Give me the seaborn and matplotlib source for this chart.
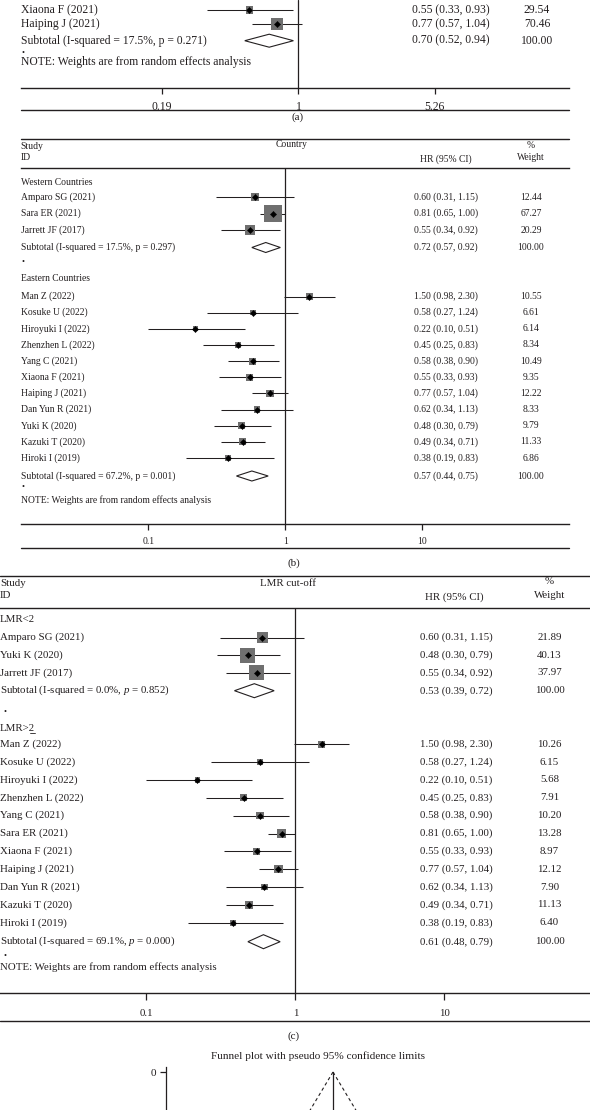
import numpy as np
import pandas as pd
import seaborn as sns
import matplotlib.pyplot as plt
import matplotlib.transforms as mtransforms
from matplotlib.lines import Line2D
from matplotlib.ticker import NullLocator

sns.set_style('white')
plt.rcParams['font.family'] = ['Liberation Serif', 'DejaVu Serif']
plt.rcParams['mathtext.fontset'] = 'custom'
plt.rcParams['mathtext.rm'] = 'Liberation Serif'
plt.rcParams['mathtext.it'] = 'Liberation Serif:italic'

# ---- data ----
# (a) bottom of a subgroup panel
a_names = ['Xiaona F (2021)', 'Haiping J (2021)']
a_hr = [0.55, 0.77]
a_lo = [0.33, 0.57]
a_hi = [0.93, 1.04]
a_w = [29.54, 70.46]
a_sub = [0.70, 0.52, 0.94]
a_sub_label = 'Subtotal (I-squared = 17.5%, p = 0.271)'
a_ticks = [0.19, 1, 5.26]

# (b) country
b_west_names = ['Amparo SG (2021)', 'Sara ER (2021)', 'Jarrett JF (2017)']
b_west_hr = [0.60, 0.81, 0.55]
b_west_lo = [0.31, 0.65, 0.34]
b_west_hi = [1.15, 1.00, 0.92]
b_west_w = [12.44, 67.27, 20.29]
b_west_sub = [0.72, 0.57, 0.92]
b_west_label = 'Subtotal (I-squared = 17.5%, p = 0.297)'

b_east_names = ['Man Z (2022)', 'Kosuke U (2022)', 'Hiroyuki I (2022)', 'Zhenzhen L (2022)',
                'Yang C (2021)', 'Xiaona F (2021)', 'Haiping J (2021)', 'Dan Yun R (2021)',
                'Yuki K (2020)', 'Kazuki T (2020)', 'Hiroki I (2019)']
b_east_hr = [1.50, 0.58, 0.22, 0.45, 0.58, 0.55, 0.77, 0.62, 0.48, 0.49, 0.38]
b_east_lo = [0.98, 0.27, 0.10, 0.25, 0.38, 0.33, 0.57, 0.34, 0.30, 0.34, 0.19]
b_east_hi = [2.30, 1.24, 0.51, 0.83, 0.90, 0.93, 1.04, 1.13, 0.79, 0.71, 0.83]
b_east_w = [10.55, 6.61, 6.14, 8.34, 10.49, 9.35, 12.22, 8.33, 9.79, 11.33, 6.86]
b_east_sub = [0.57, 0.44, 0.75]
b_east_label = 'Subtotal (I-squared = 67.2%, p = 0.001)'
b_ticks = [0.1, 1, 10]

# (c) LMR cut-off
c_low_names = ['Amparo SG (2021)', 'Yuki K (2020)', 'Jarrett JF (2017)']
c_low_hr = [0.60, 0.48, 0.55]
c_low_lo = [0.31, 0.30, 0.34]
c_low_hi = [1.15, 0.79, 0.92]
c_low_w = [21.89, 40.13, 37.97]
c_low_sub = [0.53, 0.39, 0.72]
c_low_label = 'Subtotal (I-squared = 0.0%, $p$ = 0.852)'

c_high_names = ['Man Z (2022)', 'Kosuke U (2022)', 'Hiroyuki I (2022)', 'Zhenzhen L (2022)',
                'Yang C (2021)', 'Sara ER (2021)', 'Xiaona F (2021)', 'Haiping J (2021)',
                'Dan Yun R (2021)', 'Kazuki T (2020)', 'Hiroki I (2019)']
c_high_hr = [1.50, 0.58, 0.22, 0.45, 0.58, 0.81, 0.55, 0.77, 0.62, 0.49, 0.38]
c_high_lo = [0.98, 0.27, 0.10, 0.25, 0.38, 0.65, 0.33, 0.57, 0.34, 0.34, 0.19]
c_high_hi = [2.30, 1.24, 0.51, 0.83, 0.90, 1.00, 0.93, 1.04, 1.13, 0.71, 0.83]
c_high_w = [10.26, 6.15, 5.68, 7.91, 10.20, 13.28, 8.97, 12.12, 7.90, 11.13, 6.40]
c_high_sub = [0.61, 0.48, 0.79]
c_high_label = 'Subtotal (I-squared = 69.1%, $p$ = 0.000)'
c_ticks = [0.1, 1, 10]

# funnel plot (only its top is visible)
funnel_pooled_hr = 0.59

# ---- figure helpers (layout in pixels) ----
W, H = 590, 1110
INK = '#231f20'
BOX = '#6f6f6f'
fig = plt.figure(figsize=(W / 100, H / 100), dpi=100)


def fy(y):
    return 1 - y / H


def rule(x0, x1, y, lw=1.0):
    fig.add_artist(Line2D([x0 / W, x1 / W], [fy(y), fy(y)], transform=fig.transFigure,
                          color=INK, lw=lw))


def ftext(x, y, s, size, ha='left'):
    fig.text(x / W, fy(y), s, fontsize=size, ha=ha, va='center', color=INK)


def forest_axes(x0, x1, ytop, ybot, one_px, dec_px, ticks, tsize, tlen, tpad):
    ax = fig.add_axes([x0 / W, fy(ybot), (x1 - x0) / W, (ybot - ytop) / H])
    ax.set_facecolor('none')
    ax.set_xscale('log')
    for s in ['left', 'right']:
        ax.spines[s].set_visible(False)
    for s in ['top', 'bottom']:
        ax.spines[s].set_color(INK)
        ax.spines[s].set_linewidth(1.0)
    ax.axvline(1, color=INK, lw=0.9, zorder=1)
    ax.set_xticks(ticks)
    ax.set_xticklabels([f'{t:g}' for t in ticks])
    ax.xaxis.set_minor_locator(NullLocator())
    ax.set_yticks([])
    ax.tick_params(axis='x', bottom=True, direction='out', length=tlen, width=0.9,
                   color=INK, labelcolor=INK, labelsize=tsize, pad=tpad)
    ax.set_xlim(10 ** ((x0 - one_px) / dec_px), 10 ** ((x1 - one_px) / dec_px))
    ax.set_ylim(ybot, ytop)
    return ax


def draw_studies(ax, names, hr, lo, hi, w, rows, box_max, size, xn, xh, xw):
    df = pd.DataFrame({'name': names, 'hr': hr, 'lo': lo, 'hi': hi, 'w': w, 'row': rows})
    ax.hlines(df['row'], df['lo'], df['hi'], color=INK, lw=0.75, zorder=2)
    sns.scatterplot(data=df, x='hr', y='row', size='w', sizes=(0, box_max), size_norm=(0, 100),
                    marker='s', color=BOX, edgecolor='none', legend=False, ax=ax, zorder=3)
    sns.scatterplot(data=df, x='hr', y='row', marker='D', s=10, color='black',
                    edgecolor='black', linewidth=0.3, legend=False, ax=ax, zorder=4)
    ax.set(xlabel='', ylabel='')
    tr = mtransforms.blended_transform_factory(fig.transFigure, ax.transData)
    for r in df.itertuples():
        ax.text(xn / W, r.row, r.name, transform=tr, fontsize=size, va='center', color=INK)
        ax.text(xh / W, r.row, f'{r.hr:.2f} ({r.lo:.2f}, {r.hi:.2f})', transform=tr,
                fontsize=size, va='center', color=INK)
        ax.text(xw / W, r.row, f'{r.w:.2f}', transform=tr, fontsize=size, va='center',
                ha='center', color=INK)


def draw_subtotal(ax, label, sub, row, half_h, size, xn, xh, xw):
    est, lo, hi = sub
    ax.fill([lo, est, hi, est], [row, row - half_h, row, row + half_h],
            facecolor='white', edgecolor=INK, lw=0.8, zorder=3)
    tr = mtransforms.blended_transform_factory(fig.transFigure, ax.transData)
    ax.text(xn / W, row, label, transform=tr, fontsize=size, va='center', color=INK)
    ax.text(xh / W, row, f'{est:.2f} ({lo:.2f}, {hi:.2f})', transform=tr, fontsize=size,
            va='center', color=INK)
    ax.text(xw / W, row, '100.00', transform=tr, fontsize=size, va='center', ha='center',
            color=INK)


# ---- panel (a) ----
fa = 8.4
ax_a = forest_axes(20.7, 569, 0, 88.3, 298.5, 189.2, a_ticks, fa, 4, 5)
ax_a.spines['top'].set_visible(False)
draw_studies(ax_a, a_names, a_hr, a_lo, a_hi, a_w, [10.0, 24.3], 101, fa, 20.7, 412, 537)
draw_subtotal(ax_a, a_sub_label, a_sub, 40.7, 6.5, fa, 20.7, 412, 537)
ftext(21, 52.7, '•', 6)
ftext(20.7, 62.3, 'NOTE: Weights are from random effects analysis', fa)
rule(20.7, 569, 110)
ftext(298, 117.3, '(a)', 8, ha='center')

# ---- panel (b) ----
fb = 6.9
rule(20.7, 569, 139)
ftext(20.7, 146.7, 'Study', fb)
ftext(20.7, 157.7, 'ID', fb)
ftext(291.7, 144.3, 'Country', fb, ha='center')
ftext(531, 145.7, '%', fb, ha='center')
ftext(531, 157.7, 'Weight', fb, ha='center')
ftext(446, 159.3, 'HR (95% CI)', fb, ha='center')
ax_b = forest_axes(20.7, 569, 168.3, 524, 285.3, 137, b_ticks, fb, 4, 5)
ftext(20.7, 182.7, 'Western Countries', fb)
draw_studies(ax_b, b_west_names, b_west_hr, b_west_lo, b_west_hi, b_west_w,
             [197 + 16.5 * i for i in range(3)], 240, fb, 20.7, 414, 531)
draw_subtotal(ax_b, b_west_label, b_west_sub, 247.5, 5, fb, 20.7, 414, 531)
ftext(21, 261.7, '•', 6)
ftext(20.7, 278.3, 'Eastern Countries', fb)
draw_studies(ax_b, b_east_names, b_east_hr, b_east_lo, b_east_hi, b_east_w,
             [296.5 + 16.15 * i for i in range(11)], 240, fb, 20.7, 414, 531)
draw_subtotal(ax_b, b_east_label, b_east_sub, 476, 5, fb, 20.7, 414, 531)
ftext(21, 487, '•', 6)
ftext(20.7, 500, 'NOTE: Weights are from random effects analysis', fb)
rule(20.7, 569, 548.3)
ftext(293.6, 562.7, '(b)', 8, ha='center')

# ---- panel (c) ----
fc = 7.8
rule(0, 590, 576)
ftext(0, 583, 'Study', fc)
ftext(0, 596, 'ID', fc)
ftext(288.5, 583, 'LMR cut-off', fc, ha='center')
ftext(549.5, 582, '%', fc, ha='center')
ftext(549.5, 596, 'Weight', fc, ha='center')
ftext(454.5, 597.3, 'HR (95% CI)', fc, ha='center')
ax_c = forest_axes(0, 590, 608, 993.3, 295.4, 149, c_ticks, fc, 5, 6)
ftext(0, 620, 'LMR<2', fc)
draw_studies(ax_c, c_low_names, c_low_hr, c_low_lo, c_low_hi, c_low_w,
             [637.5 + 17.6 * i for i in range(3)], 290, fc, 0, 419.6, 549.5)
draw_subtotal(ax_c, c_low_label, c_low_sub, 690.7, 7, fc, 0, 419.6, 549.5)
ftext(3, 711.7, '•', 6)
ftext(0, 728.3, 'LMR>2', fc)
rule(29.5, 34.5, 732.8, lw=0.6)  # underline under the "2"
draw_studies(ax_c, c_high_names, c_high_hr, c_high_lo, c_high_hi, c_high_w,
             [744.3 + 17.84 * i for i in range(11)], 290, fc, 0, 419.6, 549.5)
draw_subtotal(ax_c, c_high_label, c_high_sub, 941.7, 7, fc, 0, 419.6, 549.5)
ftext(3, 956, '•', 6)
ftext(0, 966.7, 'NOTE: Weights are from random effects analysis', fc)
rule(0, 590, 1020.7)
ftext(293.6, 1036, '(c)', 8, ha='center')

# ---- funnel plot (top only) ----
ftext(318, 1056, 'Funnel plot with pseudo 95% confidence limits', 8.1, ha='center')
ax_f = fig.add_axes([165.6 / W, fy(1110), (560 - 165.6) / W, (1110 - 1067) / H])
ax_f.set_facecolor('none')
centre = np.log(funnel_pooled_hr)
se = np.array([0, 0.06])
ax_f.plot([centre, centre], se, color=INK, lw=0.9)
ax_f.plot(centre - 1.96 * se, se, color=INK, lw=0.8, ls=(0, (3, 2.5)))
ax_f.plot(centre + 1.96 * se, se, color=INK, lw=0.8, ls=(0, (3, 2.5)))
ax_f.set_xlim(centre - 167.4 / 200, centre + 227 / 200)
ax_f.set_ylim(0.0582, -0.00766)
for s in ['top', 'right', 'bottom']:
    ax_f.spines[s].set_visible(False)
ax_f.spines['left'].set_color(INK)
ax_f.spines['left'].set_linewidth(0.9)
ax_f.set_xticks([])
ax_f.set_yticks([0])
ax_f.set_yticklabels(['0'])
ax_f.tick_params(axis='y', left=True, direction='out', length=4, width=0.9, color=INK,
                 labelcolor=INK, labelsize=8, pad=3)

fig.savefig('out.png', dpi=100)
